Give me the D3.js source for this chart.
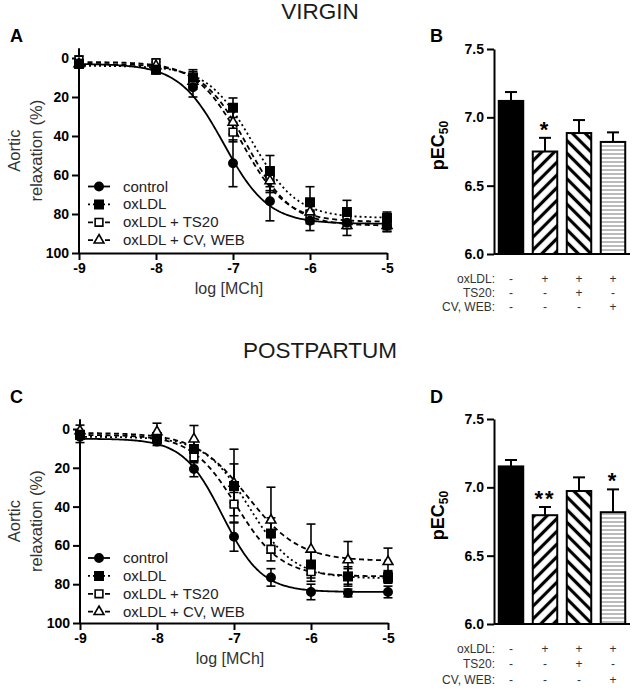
<!DOCTYPE html>
<html lang="en">
<head>
<meta charset="UTF-8">
<title>oxLDL relaxation</title>
<script src="https://cdn.jsdelivr.net/npm/d3@7"></script>
<style>
  body { margin: 0; background: #fff; }
  text { font-family: "Liberation Sans", Arial, sans-serif; }
</style>
</head>
<body>
<svg id="fig" width="633" height="698"></svg>
<script>
// ---- data ----
var doses = [-9, -8, -7.52, -7, -6.52, -6, -5.52, -5];   // log [MCh]
var groups = ["control", "oxLDL", "oxLDL + TS20", "oxLDL + CV, WEB"];

// virgin: relaxation (%) mean and SEM per dose
var virginControl    = [3, 6, 15, 54, 73.5, 83.5, 84.5, 86];
var virginControlSem = [2, 2, 5, 12, 10, 5, 3, 3];
var virginOx         = [3, 6, 10, 25.5, 58, 74, 79, 82];
var virginOxSem      = [2, 2, 4, 5, 8, 8, 6, 3];
var virginTs         = [1, 2.5, 11, 38, 62, 80, 83, 85];
var virginTsSem      = [2, 2, 4, 5, 6, 5, 3, 3];
var virginCv         = [3, 4, 12, 33, 63, 79, 86, 86];
var virginCvSem      = [2, 2, 4, 6, 6, 5, 5, 3];

// virgin: fitted curves (bottom, top, logEC50, hill)
var virginBottom  = [3, 4, 2, 3];
var virginTop     = [85, 82, 84, 86];
var virginLogEC50 = [-7.12, -6.75, -6.89, -6.82];
var virginHill    = [1.5, 1.5, 1.5, 1.5];

// postpartum: relaxation (%) mean and SEM per dose
var postControl    = [4, 6.5, 20.6, 55.5, 76.5, 84, 84.5, 84];
var postControlSem = [3, 2, 4, 7.5, 4.5, 4, 2, 3];
var postOx         = [3, 5, 10.3, 29.4, 53.8, 69.8, 76, 76.5];
var postOxSem      = [2, 2, 4, 19, 8, 7, 5, 3];
var postTs         = [3, 4, 14.4, 38.7, 62, 73.5, 76, 76];
var postTsSem      = [2, 2, 3, 6, 6, 5, 4, 3];
var postCv         = [1, 1.5, 5.2, 28, 47, 62, 67.5, 68.4];
var postCvSem      = [3, 4.5, 7, 10, 17, 13, 9.5, 7];

var postBottom  = [5, 4, 3, 2];
var postTop     = [84, 77, 76, 68];
var postLogEC50 = [-7.15, -6.80, -6.97, -6.82];
var postHill    = [1.7, 1.5, 1.5, 1.3];

// pEC50 bars
var virginPEC50    = [7.12, 6.75, 6.885, 6.82];
var virginPEC50Sem = [0.065, 0.10, 0.095, 0.07];
var virginStars    = ["", "*", "", ""];
var postPEC50      = [7.153, 6.796, 6.973, 6.818];
var postPEC50Sem   = [0.047, 0.06, 0.10, 0.167];
var postStars      = ["", "**", "", "*"];

var rowNames = ["oxLDL:", "TS20:", "CV, WEB:"];
var rowSigns = [["-", "+", "+", "+"], ["-", "-", "+", "-"], ["-", "-", "-", "+"]];

// ---- drawing ----
var svg = d3.select("#fig");

// hatch patterns for bars
var defs = svg.append("defs");
function stripe(id, angle, size, width, color) {
  var p = defs.append("pattern").attr("id", id)
    .attr("patternUnits", "userSpaceOnUse")
    .attr("width", size).attr("height", size)
    .attr("patternTransform", "rotate(" + angle + ")");
  p.append("rect").attr("width", size).attr("height", size).attr("fill", "#fff");
  p.append("line").attr("x1", size / 2).attr("y1", 0).attr("x2", size / 2).attr("y2", size)
    .attr("stroke", color).attr("stroke-width", width);
}
stripe("fwd", 45, 9, 3.2, "#000");
stripe("back", -45, 9, 3.2, "#000");
stripe("horiz", 90, 4, 1, "#777");
var barFills = ["#000", "url(#fwd)", "url(#back)", "url(#horiz)"];

var dashes = [null, "2,3", "5,3.5", "5,3.5"];
var symTypes = [d3.symbolCircle, d3.symbolSquare, d3.symbolSquare, d3.symbolTriangle];
var symSizes = [55, 70, 60, 42];
var symFill = ["#000", "#000", "#fff", "#fff"];

function fit(x, b, t, e, h) {
  return b + (t - b) / (1 + Math.pow(10, (e - x) * h));
}

function styleAxis(g) {
  g.selectAll("path, line").attr("stroke", "#000").attr("stroke-width", 2);
  g.selectAll("text").attr("font-size", "14px").attr("font-weight", "bold")
    .attr("fill", "#000").attr("font-family", "'Liberation Sans', Arial, sans-serif");
}

function curvePanel(c) {
  var g = svg.append("g");
  var x = d3.scaleLinear().domain([-9, -5]).range([c.left, c.right]);
  var y = d3.scaleLinear().domain([0, 100]).range([c.yZero, c.yHundred]);

  var ya = g.append("g").attr("transform", "translate(" + c.left + ",0)")
    .call(d3.axisLeft(y).tickValues(d3.range(0, 101, 20)).tickSize(7).tickSizeOuter(0).tickPadding(3));
  ya.select(".domain").attr("d", "M0," + y(-5) + "V" + y(100));
  styleAxis(ya);

  var xa = g.append("g").attr("transform", "translate(0," + y(100) + ")")
    .call(d3.axisBottom(x).tickValues([-9, -8, -7, -6, -5]).tickSize(7).tickSizeOuter(0).tickPadding(3)
      .tickFormat(function(d) { return String(d); }));
  styleAxis(xa);

  g.append("text").attr("x", (c.left + c.right) / 2 - 4).attr("y", y(100) + 41)
    .attr("text-anchor", "middle").attr("font-size", "16px").attr("fill", "#333")
    .text("log [MCh]");

  var yc = (y(-5) + y(100)) / 2;
  g.append("text").attr("transform", "translate(20," + yc + ") rotate(-90)")
    .attr("text-anchor", "middle").attr("font-size", "16.5px").attr("fill", "#333").text("Aortic");
  g.append("text").attr("transform", "translate(42," + yc + ") rotate(-90)")
    .attr("text-anchor", "middle").attr("font-size", "16.5px").attr("fill", "#333").text("relaxation (%)");

  // fitted curves
  var xs = d3.range(-9, -4.999, 0.02);
  var line = d3.line().x(function(d) { return x(d[0]); }).y(function(d) { return y(d[1]); });
  groups.forEach(function(name, i) {
    var pts = xs.map(function(v) { return [v, fit(v, c.bottom[i], c.top[i], c.ec50[i], c.hill[i])]; });
    g.append("path").attr("d", line(pts)).attr("fill", "none")
      .attr("stroke", "#000").attr("stroke-width", 1.8)
      .attr("stroke-dasharray", dashes[i]);
  });

  // error bars
  groups.forEach(function(name, i) {
    var eb = g.append("g").attr("stroke", "#000").attr("stroke-width", 1.6);
    doses.forEach(function(d, j) {
      var m = c.means[i][j], s = c.sems[i][j], px = x(d);
      eb.append("line").attr("x1", px).attr("x2", px).attr("y1", y(m - s)).attr("y2", y(m + s));
      eb.append("line").attr("x1", px - 4.5).attr("x2", px + 4.5).attr("y1", y(m - s)).attr("y2", y(m - s));
      eb.append("line").attr("x1", px - 4.5).attr("x2", px + 4.5).attr("y1", y(m + s)).attr("y2", y(m + s));
    });
  });

  // markers
  [2, 3, 1, 0].forEach(function(i) {
    g.append("g").selectAll("path").data(doses).enter().append("path")
      .attr("transform", function(d, j) { return "translate(" + x(d) + "," + y(c.means[i][j]) + ")"; })
      .attr("d", d3.symbol().type(symTypes[i]).size(symSizes[i]))
      .attr("fill", symFill[i]).attr("stroke", "#000").attr("stroke-width", 1.6);
  });

  // legend
  groups.forEach(function(name, i) {
    var ly = c.legendY + i * 17.9;
    g.append("line").attr("x1", 88).attr("x2", 110).attr("y1", ly - 5).attr("y2", ly - 5)
      .attr("stroke", "#000").attr("stroke-width", 1.8).attr("stroke-dasharray", dashes[i]);
    g.append("path").attr("transform", "translate(99," + (ly - 5) + ")")
      .attr("d", d3.symbol().type(symTypes[i]).size(symSizes[i]))
      .attr("fill", symFill[i]).attr("stroke", "#000").attr("stroke-width", 1.6);
    g.append("text").attr("x", 123).attr("y", ly).attr("font-size", "15px").attr("fill", "#222").text(name);
  });

  svg.append("text").attr("x", 10).attr("y", c.letterY).attr("font-size", "18px")
    .attr("font-weight", "bold").text(c.letter);
}

function barPanel(c) {
  var g = svg.append("g");
  var x = d3.scaleBand().domain([0, 1, 2, 3]).range([494, 630]).paddingInner(0.28).paddingOuter(0.14);
  var y = d3.scaleLinear().domain([6, 7.5]).range([c.yBase, c.yTop]);

  g.selectAll("rect").data(c.values).enter().append("rect")
    .attr("x", function(d, i) { return x(i); })
    .attr("y", function(d) { return y(d); })
    .attr("width", x.bandwidth())
    .attr("height", function(d) { return y(6) - y(d); })
    .attr("fill", function(d, i) { return barFills[i]; })
    .attr("stroke", "#000").attr("stroke-width", 2);

  c.values.forEach(function(v, i) {
    var cx = x(i) + x.bandwidth() / 2;
    g.append("line").attr("x1", cx).attr("x2", cx).attr("y1", y(v)).attr("y2", y(v + c.sems[i]))
      .attr("stroke", "#000").attr("stroke-width", 2);
    g.append("line").attr("x1", cx - 6).attr("x2", cx + 6)
      .attr("y1", y(v + c.sems[i])).attr("y2", y(v + c.sems[i]))
      .attr("stroke", "#000").attr("stroke-width", 2);
    if (c.stars[i]) {
      g.append("text").attr("x", cx).attr("y", y(v + c.sems[i]) - 1)
        .attr("text-anchor", "middle").attr("font-size", "22px").attr("font-weight", "bold")
        .attr("letter-spacing", "2px").text(c.stars[i]);
    }
  });

  var ya = g.append("g").attr("transform", "translate(494,0)")
    .call(d3.axisLeft(y).tickValues([6, 6.5, 7, 7.5]).tickSize(7).tickSizeOuter(0).tickPadding(3)
      .tickFormat(d3.format(".1f")));
  styleAxis(ya);
  g.append("line").attr("x1", 494).attr("x2", 630).attr("y1", y(6)).attr("y2", y(6))
    .attr("stroke", "#000").attr("stroke-width", 2);

  var lab = g.append("text").attr("transform", "translate(444," + ((c.yTop + c.yBase) / 2 - 6) + ") rotate(-90)")
    .attr("text-anchor", "middle").attr("font-size", "18px").attr("font-weight", "bold");
  lab.append("tspan").text("pEC");
  lab.append("tspan").attr("font-size", "12px").attr("dy", "4").text("50");

  rowNames.forEach(function(name, r) {
    var ry = c.rowY[r];
    g.append("text").attr("x", 495).attr("y", ry).attr("text-anchor", "end")
      .attr("font-size", "12px").attr("fill", "#333").text(name);
    rowSigns[r].forEach(function(s, i) {
      g.append("text").attr("x", x(i) + x.bandwidth() / 2).attr("y", ry)
        .attr("text-anchor", "middle").attr("font-size", "12px").attr("fill", "#333").text(s);
    });
  });

  svg.append("text").attr("x", 430).attr("y", c.letterY).attr("font-size", "18px")
    .attr("font-weight", "bold").text(c.letter);
}

// titles
svg.append("text").attr("x", 320).attr("y", 19).attr("text-anchor", "middle")
  .attr("font-family", "Lato, 'Open Sans', sans-serif").attr("font-size", "22.5px").attr("fill", "#1a1a1a")
  .text("VIRGIN");
svg.append("text").attr("x", 320).attr("y", 358).attr("text-anchor", "middle")
  .attr("font-family", "Lato, 'Open Sans', sans-serif").attr("font-size", "22.5px").attr("fill", "#1a1a1a")
  .text("POSTPARTUM");

curvePanel({
  left: 79, right: 387, yZero: 58, yHundred: 253, legendY: 191.5, letter: "A", letterY: 42,
  means: [virginControl, virginOx, virginTs, virginCv],
  sems: [virginControlSem, virginOxSem, virginTsSem, virginCvSem],
  bottom: virginBottom, top: virginTop, ec50: virginLogEC50, hill: virginHill
});
curvePanel({
  left: 80, right: 388, yZero: 429, yHundred: 623, legendY: 563, letter: "C", letterY: 403,
  means: [postControl, postOx, postTs, postCv],
  sems: [postControlSem, postOxSem, postTsSem, postCvSem],
  bottom: postBottom, top: postTop, ec50: postLogEC50, hill: postHill
});
barPanel({
  yTop: 49, yBase: 254, values: virginPEC50, sems: virginPEC50Sem, stars: virginStars,
  rowY: [283, 297, 311], letter: "B", letterY: 42
});
barPanel({
  yTop: 419, yBase: 624, values: postPEC50, sems: postPEC50Sem, stars: postStars,
  rowY: [653, 668, 684], letter: "D", letterY: 403
});
</script>
</body>
</html>
